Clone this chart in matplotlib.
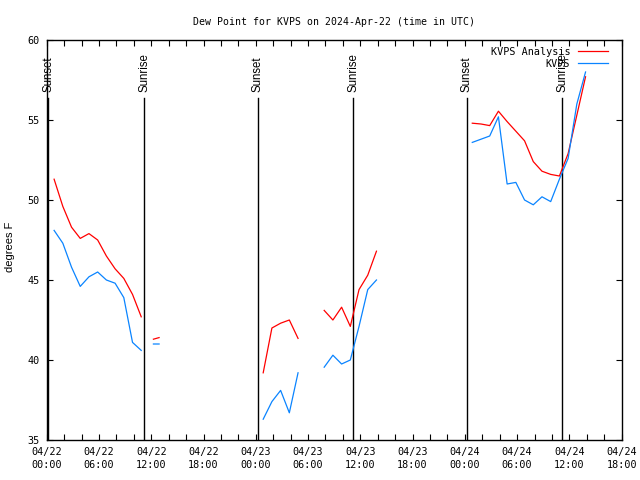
import matplotlib
matplotlib.use('Agg')
import matplotlib.pyplot as plt
from matplotlib.ticker import FixedLocator, MultipleLocator

nan = float('nan')

# hours since 2024-04-22 00:00 UTC
hours = [0.85, 1.85, 2.85, 3.85, 4.85, 5.85, 6.85, 7.85, 8.85, 9.85, 10.85,
         11.85, 12.25, 12.9, 23.85,
         24.85, 25.85, 26.85, 27.85, 28.85, 29.85,
         31.85, 32.85, 33.85, 34.85, 35.85, 36.85, 37.85, 38.85,
         48.85, 49.85, 50.85, 51.85, 52.85, 53.85, 54.85, 55.85, 56.85, 57.85,
         58.85, 59.85, 60.85, 61.85]

analysis = [51.3, 49.6, 48.3, 47.6, 47.9, 47.5, 46.5, 45.7, 45.1, 44.1, 42.7,
            nan, 41.3, 41.4, nan,
            39.2, 42.0, 42.3, 42.5, 41.35, nan,
            43.1, 42.5, 43.3, 42.1, 44.4, 45.3, 46.8, nan,
            54.8, 54.75, 54.65, 55.55, 54.9, 54.3, 53.7, 52.4, 51.8, 51.6,
            51.5, 52.9, 55.3, 57.7]

observed = [48.1, 47.3, 45.8, 44.6, 45.2, 45.5, 45.0, 44.8, 43.9, 41.1, 40.6,
            nan, 41.0, 41.0, nan,
            36.3, 37.4, 38.1, 36.7, 39.2, nan,
            39.55, 40.3, 39.75, 40.0, 42.1, 44.4, 45.0, nan,
            53.6, 53.8, 54.0, 55.2, 51.0, 51.1, 50.0, 49.7, 50.2, 49.9,
            51.3, 52.6, 56.0, 58.0]

sun_times = [0.18, 11.2, 24.22, 35.19, 48.21, 59.18]
sun_labels = ['Sunset', 'Sunrise', 'Sunset', 'Sunrise', 'Sunset', 'Sunrise']

xtick_pos = [0, 6, 12, 18, 24, 30, 36, 42, 48, 54, 60, 66]
xtick_labels = ['04/22\n00:00', '04/22\n06:00', '04/22\n12:00', '04/22\n18:00',
                '04/23\n00:00', '04/23\n06:00', '04/23\n12:00', '04/23\n18:00',
                '04/24\n00:00', '04/24\n06:00', '04/24\n12:00', '04/24\n18:00']
yticks = [35, 40, 45, 50, 55, 60]

mono = 'DejaVu Sans Mono'
sans = 'Liberation Sans'

fig = plt.figure(figsize=(6.4, 4.8), dpi=100)
ax = fig.add_axes([46.7 / 640, 1 - 440 / 480, 575 / 640, 400 / 480])

for t, lab in zip(sun_times, sun_labels):
    ax.plot([t, t], [35, 56.4], color='black', lw=1.0)
    ax.text(t, 56.75, lab, rotation=90, ha='center', va='bottom',
            fontsize=8.3, family=sans)

ax.plot(hours, analysis, color='#ff0000', lw=0.9, label='KVPS Analysis')
ax.plot(hours, observed, color='#0a84ff', lw=0.9, label='KVPS')

ax.set_xlim(0, 66)
ax.set_ylim(35, 60)
ax.xaxis.set_major_locator(FixedLocator(xtick_pos))
ax.xaxis.set_minor_locator(MultipleLocator(2))
ax.set_xticklabels(xtick_labels, family=mono, fontsize=7.3, linespacing=1.4)
ax.set_yticks(yticks)
ax.set_yticklabels([str(v) for v in yticks], family=mono, fontsize=7.3)
ax.tick_params(which='both', direction='in', length=4, width=0.8,
               top=True, right=True, color='black')
ax.tick_params(axis='x', pad=5)
ax.tick_params(axis='y', pad=5)

for s in ax.spines.values():
    s.set_linewidth(1.0)

ax.set_ylabel('degrees F', family=sans, fontsize=8)
ax.yaxis.set_label_coords(-0.055, 0.482)

ax.set_title('Dew Point for KVPS on 2024-Apr-22 (time in UTC)',
             family=mono, fontsize=7.1, pad=11)

leg = ax.legend(loc='upper right', bbox_to_anchor=(0.983, 0.993),
                frameon=False, markerfirst=False, borderaxespad=0,
                handlelength=2.9, handletextpad=0.8, labelspacing=0.2,
                prop={'family': mono, 'size': 7.3})

fig.savefig('out.png', dpi=100)
